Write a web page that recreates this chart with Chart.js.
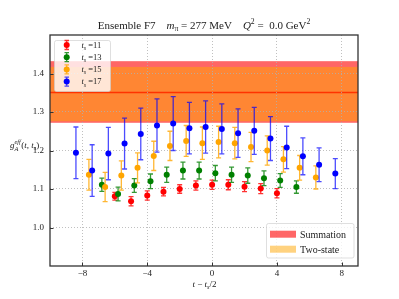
<!DOCTYPE html>
<html>
<head>
<meta charset="utf-8">
<script src="https://cdn.jsdelivr.net/npm/chart.js@4/dist/chart.umd.min.js"></script>
<style>html,body{margin:0;padding:0;background:#fff}canvas{display:block}</style>
</head>
<body>
<canvas id="c" width="399" height="299"></canvas>
<script>
// t_s = 11
const ts11X = [-6, -5, -4, -3, -2, -1, 0, 1, 2, 3, 4];
const ts11Y = [1.081, 1.068, 1.083, 1.093, 1.100, 1.109, 1.111, 1.111, 1.106, 1.101, 1.089];
const ts11Err = [0.010, 0.012, 0.012, 0.011, 0.011, 0.012, 0.012, 0.013, 0.013, 0.013, 0.012];
// t_s = 13
const ts13X = [-6.8, -5.8, -4.8, -3.8, -2.8, -1.8, -0.8, 0.2, 1.2, 2.2, 3.2, 4.2, 5.2];
const ts13Y = [1.111, 1.087, 1.109, 1.120, 1.137, 1.148, 1.148, 1.141, 1.137, 1.135, 1.128, 1.122, 1.105];
const ts13Err = [0.017, 0.018, 0.018, 0.019, 0.020, 0.022, 0.022, 0.020, 0.020, 0.020, 0.019, 0.018, 0.016];
// t_s = 15
const ts15X = [-7.6, -6.6, -5.6, -4.6, -3.6, -2.6, -1.6, -0.6, 0.4, 1.4, 2.4, 3.4, 4.4, 5.4, 6.4];
const ts15Y = [1.137, 1.105, 1.135, 1.155, 1.186, 1.212, 1.225, 1.219, 1.222, 1.219, 1.209, 1.200, 1.177, 1.155, 1.130];
const ts15Err = [0.040, 0.038, 0.038, 0.039, 0.038, 0.038, 0.040, 0.042, 0.041, 0.041, 0.038, 0.038, 0.033, 0.032, 0.030];
// t_s = 17
const ts17X = [-8.4, -7.4, -6.4, -5.4, -4.4, -3.4, -2.4, -1.4, -0.4, 0.6, 1.6, 2.6, 3.6, 4.6, 5.6, 6.6, 7.6];
const ts17Y = [1.194, 1.148, 1.192, 1.218, 1.243, 1.265, 1.270, 1.258, 1.261, 1.256, 1.245, 1.251, 1.231, 1.208, 1.185, 1.163, 1.140];
const ts17Err = [0.067, 0.067, 0.068, 0.066, 0.067, 0.069, 0.070, 0.067, 0.068, 0.065, 0.063, 0.061, 0.057, 0.055, 0.048, 0.044, 0.039];

// fit bands
const summationBand = [1.272, 1.432];
const twoStateBand = [1.276, 1.417];
const fitCentral = 1.352;

const xTicks = [-8, -4, 0, 4, 8];
const yTicks = [1.0, 1.1, 1.2, 1.3, 1.4];
const seriesLabels = ["11", "13", "15", "17"];
const seriesColors = ["#ff0000", "#008000", "#ffa500", "#0000ff"];
const barColors = ["rgba(255,0,0,0.8)", "rgba(0,128,0,0.8)", "rgba(255,165,0,0.8)", "rgba(0,0,255,0.7)"];

const FONT = '"Liberation Serif", "DejaVu Serif", serif';

const toPoints = (xs, ys) => xs.map((x, i) => ({ x, y: ys[i] }));

// draws text pieces: flags i = italic, b = subscript, p = superscript
const rich = (ctx, segs, x, y, size, align) => {
  const parts = segs.map(([t, f = ""]) => {
    const small = f.includes("b") || f.includes("p");
    const font = (f.includes("i") ? "italic " : "") + (small ? size * 0.7 : size) + "px " + FONT;
    ctx.font = font;
    const dy = f.includes("b") ? size * 0.25 : f.includes("p") ? -size * 0.4 : 0;
    return { t, font, dy, w: ctx.measureText(t).width };
  });
  const total = parts.reduce((s, p) => s + p.w, 0);
  let cx = align === "center" ? x - total / 2 : align === "right" ? x - total : x;
  ctx.textAlign = "left";
  ctx.textBaseline = "alphabetic";
  parts.forEach((p) => {
    ctx.font = p.font;
    ctx.fillText(p.t, cx, y + p.dy);
    cx += p.w;
  });
  return total;
};

const bandsPlugin = {
  id: "bands",
  beforeDraw(chart) {
    const { ctx, chartArea: a, scales: { y } } = chart;
    ctx.save();
    ctx.fillStyle = "rgba(255,0,0,0.6)";
    let t = y.getPixelForValue(summationBand[1]);
    let b = y.getPixelForValue(summationBand[0]);
    ctx.fillRect(a.left, t, a.right - a.left, b - t);
    ctx.fillStyle = "rgba(255,165,0,0.5)";
    t = y.getPixelForValue(twoStateBand[1]);
    b = y.getPixelForValue(twoStateBand[0]);
    ctx.fillRect(a.left, t, a.right - a.left, b - t);
    const c = Math.round(y.getPixelForValue(fitCentral)) + 0.5;
    ctx.strokeStyle = "#ff3300";
    ctx.lineWidth = 1.5;
    ctx.beginPath();
    ctx.moveTo(a.left, c);
    ctx.lineTo(a.right, c);
    ctx.stroke();
    ctx.restore();
  },
};

const errorBarPlugin = {
  id: "errorbars",
  beforeDatasetDraw(chart, args) {
    const ds = chart.data.datasets[args.index];
    const { ctx, scales: { x, y } } = chart;
    ctx.save();
    ctx.strokeStyle = barColors[args.index];
    ctx.lineWidth = 1.3;
    ds.data.forEach((p, i) => {
      const px = x.getPixelForValue(p.x);
      const lo = y.getPixelForValue(p.y - ds.errors[i]);
      const hi = y.getPixelForValue(p.y + ds.errors[i]);
      ctx.beginPath();
      ctx.moveTo(px, lo);
      ctx.lineTo(px, hi);
      ctx.moveTo(px - 2.5, lo);
      ctx.lineTo(px + 2.5, lo);
      ctx.moveTo(px - 2.5, hi);
      ctx.lineTo(px + 2.5, hi);
      ctx.stroke();
    });
    ctx.restore();
  },
};

const decorPlugin = {
  id: "decor",
  afterDraw(chart) {
    const { ctx, chartArea: a, scales: { x, y } } = chart;
    ctx.save();
    // inward ticks
    ctx.strokeStyle = "#333";
    ctx.lineWidth = 1;
    xTicks.forEach((v) => {
      const px = Math.round(x.getPixelForValue(v)) + 0.5;
      ctx.beginPath();
      ctx.moveTo(px, a.bottom);
      ctx.lineTo(px, a.bottom - 3.5);
      ctx.stroke();
    });
    yTicks.forEach((v) => {
      const py = Math.round(y.getPixelForValue(v)) + 0.5;
      ctx.beginPath();
      ctx.moveTo(a.left, py);
      ctx.lineTo(a.left + 3.5, py);
      ctx.stroke();
    });
    // frame
    ctx.strokeStyle = "#333";
    ctx.lineWidth = 1.3;
    ctx.strokeRect(a.left, a.top, a.right - a.left, a.bottom - a.top);

    ctx.fillStyle = "#222";
    // title
    rich(ctx, [["Ensemble F7    "], ["m", "i"], ["\u03c0", "b"], [" = 277 MeV    "], ["Q", "i"], ["2", "p"], [" =  0.0 GeV"], ["2", "p"]],
      204, 28.5, 11, "center");
    // x label
    rich(ctx, [["t", "i"], [" \u2212 "], ["t", "i"], ["s", "bi"], ["/2"]], 204.5, 287, 9, "center");
    // y label g_A^eff(t, t_s)
    let cx = 10;
    const yb = 148;
    ctx.font = "italic 9px " + FONT;
    ctx.fillText("g", cx, yb);
    cx += ctx.measureText("g").width;
    ctx.font = "italic 6.3px " + FONT;
    ctx.fillText("A", cx, yb + 2.5);
    const wA = ctx.measureText("A").width;
    ctx.fillText("eff", cx, yb - 4.5);
    cx += Math.max(wA, ctx.measureText("eff").width) + 0.5;
    rich(ctx, [["(", ""], ["t", "i"], [", "], ["t", "i"], ["s", "bi"], [")"]], cx, yb, 9, "left");

    // legend top-left
    ctx.fillStyle = "rgba(255,255,255,0.8)";
    ctx.strokeStyle = "rgba(204,204,204,0.8)";
    ctx.lineWidth = 0.8;
    ctx.beginPath();
    ctx.roundRect(54.5, 40.5, 56, 51, 2);
    ctx.fill();
    ctx.stroke();
    seriesLabels.forEach((lab, i) => {
      const ly = 45 + i * 12.2;
      ctx.strokeStyle = barColors[i];
      ctx.lineWidth = 1.3;
      ctx.beginPath();
      ctx.moveTo(66.7, ly - 4.5);
      ctx.lineTo(66.7, ly + 4.5);
      ctx.moveTo(64.5, ly - 4.5);
      ctx.lineTo(69, ly - 4.5);
      ctx.moveTo(64.5, ly + 4.5);
      ctx.lineTo(69, ly + 4.5);
      ctx.stroke();
      ctx.fillStyle = seriesColors[i];
      ctx.beginPath();
      ctx.arc(66.7, ly, 3, 0, Math.PI * 2);
      ctx.fill();
      ctx.fillStyle = "#222";
      rich(ctx, [["t", "i"], ["s", "bi"], [" =" + lab]], 81.5, ly + 2.8, 8.5, "left");
    });

    // legend bottom-right
    ctx.fillStyle = "rgba(255,255,255,0.8)";
    ctx.strokeStyle = "rgba(204,204,204,0.8)";
    ctx.lineWidth = 0.8;
    ctx.beginPath();
    ctx.roundRect(266.5, 223.5, 87.5, 34.5, 2);
    ctx.fill();
    ctx.stroke();
    ctx.fillStyle = "rgba(255,0,0,0.6)";
    ctx.fillRect(270, 230.7, 26, 7);
    ctx.fillStyle = "rgba(255,165,0,0.5)";
    ctx.fillRect(270, 245.7, 26, 7);
    ctx.fillStyle = "#222";
    rich(ctx, [["Summation"]], 300, 237.5, 10, "left");
    rich(ctx, [["Two-state"]], 300, 252.5, 10, "left");
    ctx.restore();
  },
};

const makeSet = (xs, ys, errs, i) => ({
  label: "t_s =" + seriesLabels[i],
  data: toPoints(xs, ys),
  errors: errs,
  backgroundColor: seriesColors[i],
  borderWidth: 0,
  pointRadius: 3,
  order: 4 - i,
});

new Chart("c", {
  type: "scatter",
  data: {
    datasets: [
      makeSet(ts11X, ts11Y, ts11Err, 0),
      makeSet(ts13X, ts13Y, ts13Err, 1),
      makeSet(ts15X, ts15Y, ts15Err, 2),
      makeSet(ts17X, ts17Y, ts17Err, 3),
    ],
  },
  options: {
    responsive: false,
    animation: false,
    devicePixelRatio: 1,
    layout: { padding: { top: 35, right: 41, left: 0, bottom: 0 } },
    plugins: { legend: { display: false }, tooltip: { enabled: false }, title: { display: false } },
    scales: {
      x: {
        type: "linear",
        min: -10,
        max: 9,
        afterBuildTicks: (s) => { s.ticks = xTicks.map((v) => ({ value: v })); },
        afterFit: (s) => { s.height = 33; },
        ticks: {
          color: "#222",
          font: { family: FONT, size: 9 },
          padding: 2,
          maxRotation: 0,
          callback: (v) => (v < 0 ? "\u2212" + Math.abs(v) : String(v)),
        },
        grid: { color: "#b0b0b0", lineWidth: 0.8, drawTicks: false },
        border: { display: false, dash: [1, 2] },
      },
      y: {
        min: 0.9,
        max: 1.5,
        afterBuildTicks: (s) => { s.ticks = yTicks.map((v) => ({ value: v })); },
        afterFit: (s) => { s.width = 50; },
        ticks: {
          color: "#222",
          font: { family: FONT, size: 9 },
          padding: 6,
          callback: (v) => v.toFixed(1),
        },
        grid: { color: "#b0b0b0", lineWidth: 0.8, drawTicks: false },
        border: { display: false, dash: [1, 2] },
      },
    },
  },
  plugins: [bandsPlugin, errorBarPlugin, decorPlugin],
});
</script>
</body>
</html>
